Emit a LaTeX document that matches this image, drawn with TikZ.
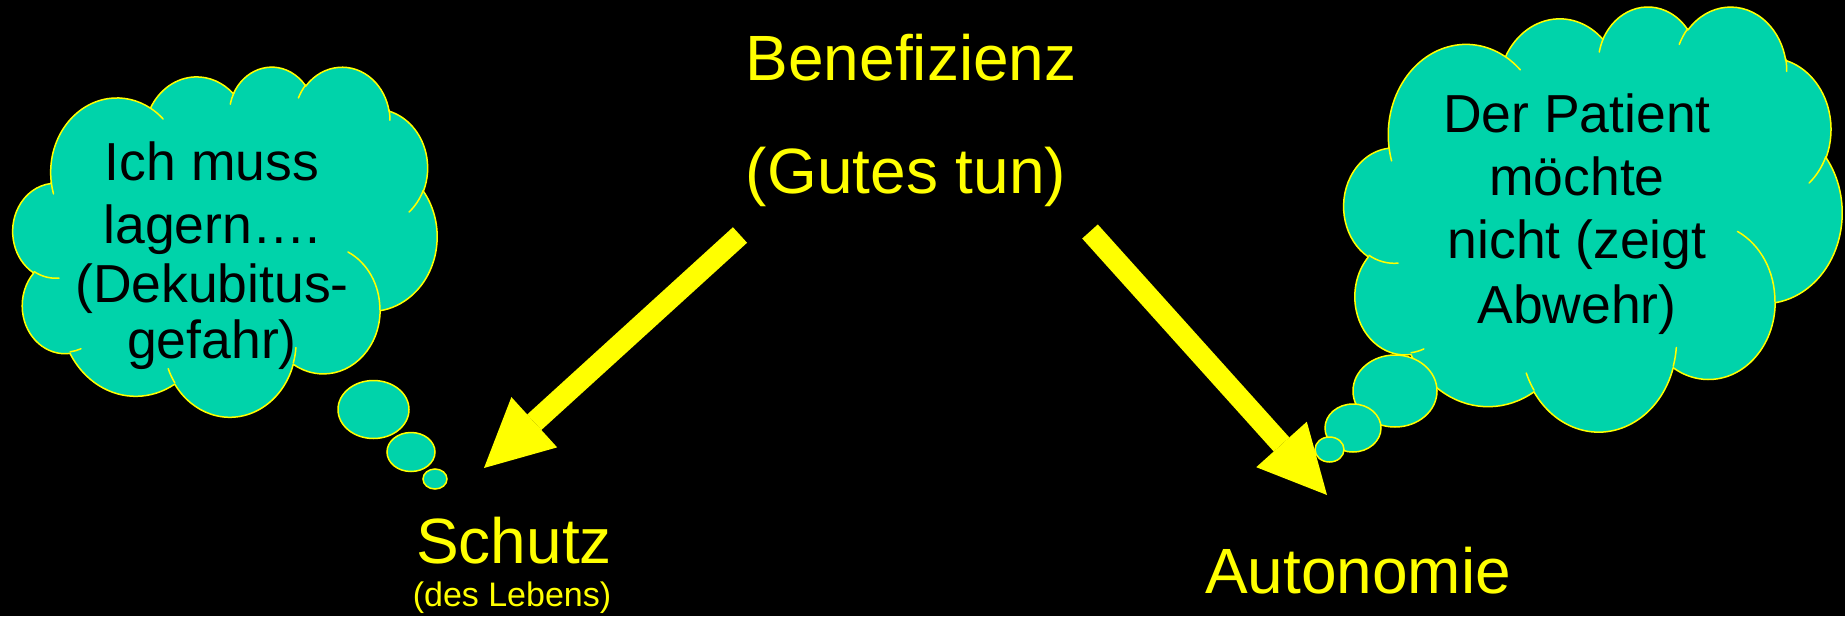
\documentclass[tikz,border=0pt]{standalone}
\usepackage{fontspec}
\setmainfont{Liberation Sans}
\usetikzlibrary{arrows.meta}
\definecolor{cloudfill}{RGB}{0,211,170}
\definecolor{ylw}{RGB}{255,255,0}

% visual (DrawingML) angle -> parametric angle
\newcommand\cloudang[4]{%
  \pgfmathparse{atan2((#1)*sin(#3),(#2)*cos(#3))}\global\let\cA\pgfmathresult
  \pgfmathparse{atan2((#1)*sin((#3)+(#4)),(#2)*cos((#3)+(#4)))}\global\let\cB\pgfmathresult
  \pgfmathparse{mod(\cB-(\cA)+720,360)}\global\let\cD\pgfmathresult}
\newcommand\carc[4]{\pgfextra{\cloudang{#1}{#2}{#3}{#4}} arc[start angle=\cA, delta angle=\cD, x radius=#1, y radius=#2]}

\newcommand\cloudouter{(39.00,143.70)
  \carc{67.53}{91.90}{-190.4875}{123.7805}
  \carc{53.33}{72.67}{-144.1024}{89.9452}
  \carc{43.65}{59.45}{-145.8079}{99.7230}
  \carc{48.57}{65.95}{-130.9861}{117.2417}
  \carc{53.33}{72.73}{-78.7089}{109.0269}
  \carc{67.75}{92.20}{-46.2673}{130.2690}
  \carc{57.85}{78.67}{0.6250}{114.0333}
  \carc{67.52}{92.15}{22.4516}{115.1726}
  \carc{77.20}{105.43}{66.2426}{75.7110}
  \carc{43.60}{59.18}{-274.9421}{146.7356}
  \carc{43.45}{59.45}{-246.8285}{152.5189}
  -- cycle}
\newcommand\cloudinner{
  (46.93,261.77) \carc{43.45}{59.45}{86.7420}{26.4295}
  (69.28,348.99) \carc{43.60}{59.18}{73.6105}{11.4475}
  (164.78,390.90) \carc{67.52}{92.15}{137.6242}{14.0811}
  (288.27,347.51) \carc{67.52}{92.15}{6.4533}{15.9984}
  (341.29,229.54) \carc{57.85}{78.67}{-70.2924}{70.9174}
  (417.98,153.54) \carc{53.33}{72.73}{30.3180}{27.7515}
  (383.24,54.26) \carc{48.57}{65.95}{-13.7443}{14.8589}
  (290.78,39.52) \carc{48.57}{65.95}{-149.1815}{18.1954}
  (221.41,47.20) \carc{43.65}{59.45}{-163.4943}{17.6864}
  (140.00,51.92) \carc{67.53}{91.90}{-66.7070}{12.3194}
  (41.27,157.89) \carc{67.53}{91.90}{157.6544}{11.8582}}

\tikzset{
  cloudbody/.style={fill=cloudfill, draw=ylw, line width=1.5pt, line join=round},
  cloudseam/.style={draw=ylw, line width=1.5pt, line cap=round},
  bubble/.style={fill=cloudfill, draw=ylw, line width=1.5pt},
  cloudtxt/.style={font=\fontsize{53.5}{60}\selectfont, text=black, anchor=base, inner sep=0pt},
  bigtxt/.style={font=\fontsize{64}{70}\selectfont, text=ylw, anchor=base, inner sep=0pt},
  smalltxt/.style={font=\fontsize{34}{40}\selectfont, text=ylw, anchor=base, inner sep=0pt},
  blockarrow/.style={draw=ylw, line width=21pt, -{Triangle[length=68pt,width=68pt,line width=0pt]}}
}

\begin{document}
\begin{tikzpicture}[x=1pt,y=-1pt]
\useasboundingbox (0,0) rectangle (1845,616);
\fill[black] (0,0) rectangle (1845,616);

% left cloud
\begin{scope}[shift={(13,66)}, x=0.98148pt, y=-0.81019pt]
  \path[cloudbody] \cloudouter;
  \path[cloudseam] \cloudinner;
\end{scope}
\path[bubble] (373.5,409.5) ellipse[x radius=35.5, y radius=29];
\path[bubble] (411,452) ellipse[x radius=24, y radius=19.5];
\path[bubble] (435,479) ellipse[x radius=12, y radius=10];

% right cloud
\begin{scope}[shift={(1344,5.6)}, x=1.15278pt, y=-0.98380pt]
  \path[cloudbody] \cloudouter;
  \path[cloudseam] \cloudinner;
\end{scope}
\path[bubble] (1395,391) ellipse[x radius=42, y radius=36];
\path[bubble] (1353,428) ellipse[x radius=28, y radius=24];
\path[bubble] (1329.5,449.5) ellipse[x radius=14.5, y radius=12.5];

% cloud texts
\node[cloudtxt] (l1) at (212,180) {Ich muss};
\node[cloudtxt] (l2) at (212,243) {lagern….};
\node[cloudtxt] (l3) at (212,302) {(Dekubitus-};
\node[cloudtxt] (l4) at (212,358) {gefahr)};

\node[cloudtxt] (r1) at (1577,132) {Der Patient};
\node[cloudtxt] (r2) at (1577,195) {möchte};
\node[cloudtxt] (r3) at (1577,258) {nicht (zeigt};
\node[cloudtxt] (r4) at (1577,323) {Abwehr)};

% main labels
\node[bigtxt] (bene) at (911,80) {Benefizienz};
\node[bigtxt] (gutes) at (906,193) {(Gutes tun)};
\node[bigtxt] (schutz) at (514,563) {Schutz};
\node[smalltxt] (leben) at (512,606) {(des Lebens)};
\node[bigtxt] (auto) at (1358,593) {Autonomie};

% arrows
\coordinate (la0) at (740,235);
\coordinate (la1) at (484,468);
\coordinate (ra0) at (1090,231.5);
\coordinate (ra1) at (1327,495);
\draw[blockarrow] (la0) -- (la1);
\draw[blockarrow] (ra0) -- (ra1);
\end{tikzpicture}
\end{document}
